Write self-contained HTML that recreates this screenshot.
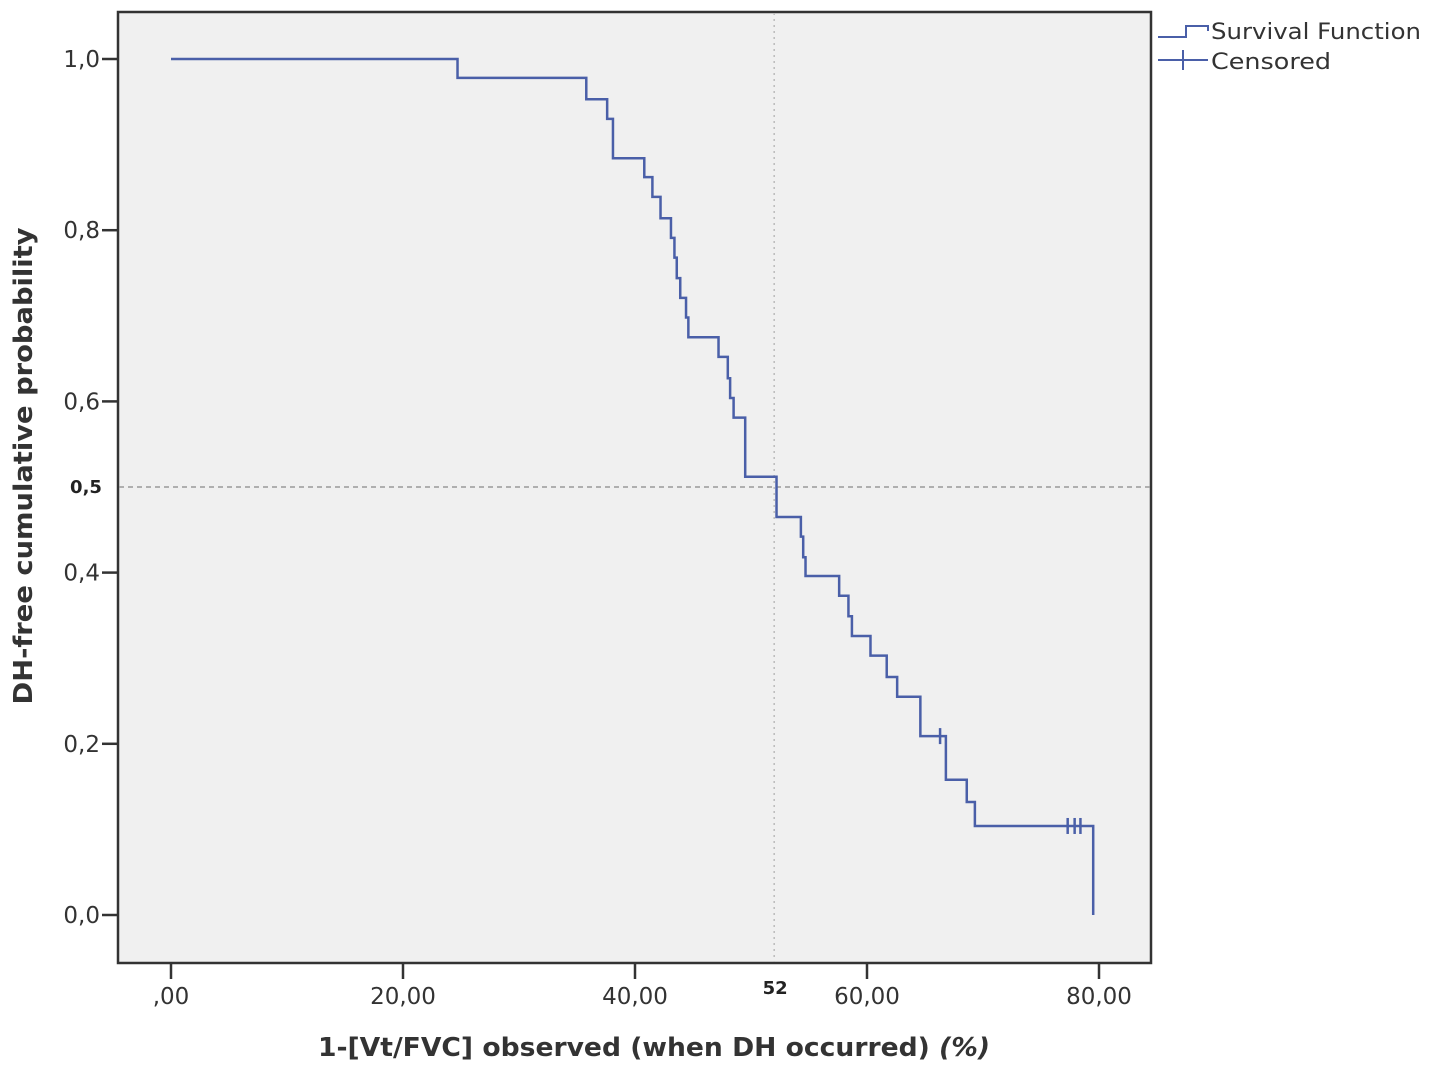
<!DOCTYPE html>
<html><head><meta charset="utf-8"><style>
html,body{margin:0;padding:0;background:#fff;}
svg{display:block;font-family:"DejaVu Sans","Liberation Sans",sans-serif;}
</style></head><body>
<svg id="chart" width="1429" height="1077" viewBox="0 0 1429 1077" xmlns="http://www.w3.org/2000/svg">
<rect x="118" y="12" width="1033" height="951" fill="#f0f0f0" stroke="#333" stroke-width="2.5"/>
<g id="axes"></g>
<g id="series"></g>
<g>
<path d="M1158,37 H1186 V26 H1208 V31" fill="none" stroke="#4a5fa8" stroke-width="2"/>
<text x="1211" y="39" font-size="22" textLength="210" lengthAdjust="spacingAndGlyphs" fill="#333">Survival Function</text>
<line x1="1158" y1="60" x2="1208" y2="60" stroke="#4a5fa8" stroke-width="2"/>
<line x1="1183" y1="50" x2="1183" y2="70" stroke="#4a5fa8" stroke-width="2"/>
<text x="1211" y="69" font-size="22" textLength="120" lengthAdjust="spacingAndGlyphs" fill="#333">Censored</text>
</g>
<text x="654" y="1056" text-anchor="middle" font-size="26" font-weight="bold" fill="#333" textLength="672" lengthAdjust="spacingAndGlyphs">1-[Vt/FVC] observed (when DH occurred) <tspan font-style="italic">(%)</tspan></text>
<text transform="translate(32,466) rotate(-90)" text-anchor="middle" font-size="26" font-weight="bold" fill="#333" textLength="477" lengthAdjust="spacingAndGlyphs">DH-free cumulative probability</text>
</svg>
<script>
const xTicks=[0,20,40,60,80];
const xTickLabels=[",00","20,00","40,00","60,00","80,00"];
const yTicks=[0,0.2,0.4,0.6,0.8,1.0];
const yTickLabels=["0,0","0,2","0,4","0,6","0,8","1,0"];
const eventTimes=[24.7,35.8,37.6,38.1,38.1,40.8,41.5,42.2,43.1,43.4,43.6,43.9,44.4,44.6,47.2,48.0,48.2,48.5,49.5,49.5,52.2,54.3,54.5,54.7,57.6,58.4,58.7,60.3,61.7,62.6,64.6,64.6,66.8,66.8,68.6,69.3,79.5];
const survival=[0.978,0.953,0.930,0.907,0.884,0.862,0.839,0.814,0.791,0.768,0.744,0.721,0.698,0.675,0.652,0.627,0.604,0.581,0.535,0.512,0.465,0.442,0.418,0.396,0.373,0.349,0.326,0.303,0.278,0.255,0.231,0.209,0.183,0.158,0.132,0.104,0.0];
const censorTimes=[66.3,77.3,77.9,78.4];
const medianX=52, medianY=0.5, startX=0;
const X=v=>171+v*11.6, Y=v=>915-v*856;
const NS="http://www.w3.org/2000/svg";
const ax=document.getElementById('axes'), se=document.getElementById('series');
function mk(tag,attrs,parent){const e=document.createElementNS(NS,tag);for(const k in attrs)e.setAttribute(k,attrs[k]);parent.appendChild(e);return e;}
xTicks.forEach((t,i)=>{
 const l=mk('line',{x1:X(t),x2:X(t),y1:963,y2:979,stroke:'#333','stroke-width':2.5},ax);
 
 
 const tx=mk('text',{x:X(t),y:1004,'text-anchor':'middle','font-size':23,fill:'#333'},ax);
 tx.textContent=xTickLabels[i];
 
 
});
yTicks.forEach((t,i)=>{
 const l=mk('line',{x1:102,x2:118,y1:Y(t),y2:Y(t),stroke:'#333','stroke-width':2.5},ax);
 
 
 const tx=mk('text',{x:100,y:Y(t)+8,'text-anchor':'end','font-size':23,fill:'#333'},ax);
 tx.textContent=yTickLabels[i];
 
 
});
const hr=mk('line',{x1:119,x2:1150,y1:Y(medianY),y2:Y(medianY),stroke:'#999','stroke-width':1.5,'stroke-dasharray':'5,4'},ax);


const vr=mk('line',{x1:X(medianX),x2:X(medianX),y1:13,y2:962,stroke:'#bbb','stroke-width':1.5,'stroke-dasharray':'2,4'},ax);


const ml=mk('text',{x:86,y:Y(medianY)+6,'text-anchor':'middle','font-size':18,'font-weight':'bold',fill:'#222'},ax);
ml.textContent="0,5";


const mx=mk('text',{x:X(medianX)+1,y:994,'text-anchor':'middle','font-size':18,'font-weight':'bold',fill:'#222'},ax);
mx.textContent=String(medianX);


let d='M'+X(startX)+','+Y(1);
eventTimes.forEach((t,i)=>{d+=' H'+X(t)+' V'+Y(survival[i]);});
const p=mk('path',{d:d,fill:'none',stroke:'#4a5fa8','stroke-width':2.5},se);


function sAt(t){let s=1;eventTimes.forEach((e,i)=>{if(e<=t)s=survival[i];});return s;}
censorTimes.forEach(t=>{
 const y=Y(sAt(t));
 const c=mk('line',{x1:X(t),x2:X(t),y1:y-8,y2:y+8,stroke:'#4a5fa8','stroke-width':2.5},se);
 
 
});
</script>
</body></html>
